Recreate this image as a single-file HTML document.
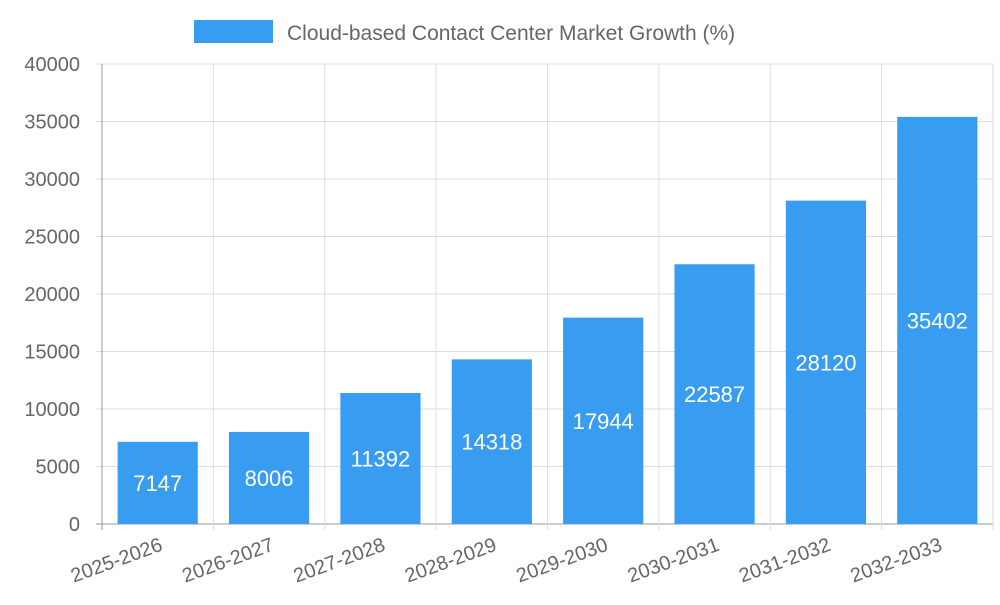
<!DOCTYPE html>
<html><head><meta charset="utf-8"><style>
body{margin:0;background:#fff;font-family:"Liberation Sans",sans-serif;}
</style></head><body>
<svg id="chart" width="1000" height="600" xmlns="http://www.w3.org/2000/svg">
<rect x="194" y="20" width="79" height="23" fill="#389cf0"/>
<text x="287" y="40" font-size="21" fill="#666" font-family="Liberation Sans, sans-serif">Cloud-based Contact Center Market Growth (%)</text>
<g id="grid"></g><g id="bars"></g><g id="labels"></g>
</svg>
<script>
const categories=["2025-2026","2026-2027","2027-2028","2028-2029","2029-2030","2030-2031","2031-2032","2032-2033"];
const values=[7147,8006,11392,14318,17944,22587,28120,35402];
const yTicks=[0,5000,10000,15000,20000,25000,30000,35000,40000];
const L=102,R=993,T=64,B=524,yMax=40000;
const cw=(R-L)/categories.length;
const x=i=>L+i*cw;
const y=v=>B-(v/yMax)*(B-T);
const NS="http://www.w3.org/2000/svg";
function mk(tag,attrs,parent,txt){const e=document.createElementNS(NS,tag);for(const k in attrs)e.setAttribute(k,attrs[k]);if(txt!==undefined)e.textContent=txt;parent.appendChild(e);return e;}
const g=document.getElementById('grid'),gb=document.getElementById('bars'),gl=document.getElementById('labels');
yTicks.forEach(t=>{
 const ln=mk('line',{x1:96,x2:R,y1:y(t),y2:y(t),stroke:t===0?'#999':'#ddd','stroke-width':1},g);
 
 
 const tx=mk('text',{x:80,y:y(t)+7,'text-anchor':'end','font-size':20,fill:'#666'},g,String(t));
 
 
});
for(let i=0;i<=categories.length;i++){
 const ln=mk('line',{x1:x(i),x2:x(i),y1:T,y2:B+6,stroke:i===0?'#999':'#ddd','stroke-width':1},g);
 
 
}
categories.forEach((c,i)=>{
 const bw=cw*0.72,cx=x(i)+cw/2;
 const r=mk('rect',{x:cx-bw/2,y:y(values[i]),width:bw,height:B-y(values[i]),fill:'#389cf0'},gb);
 
 
 const vt=mk('text',{x:cx,y:(y(values[i])+B)/2+8,'text-anchor':'middle','font-size':22,fill:'#fff'},gl,String(values[i]));
 
 
 const ct=mk('text',{x:0,y:0,'text-anchor':'end','font-size':20,fill:'#666',transform:`translate(${cx+6},${550}) rotate(-20)`},gl,c);
 
 
});
</script>
</body></html>
